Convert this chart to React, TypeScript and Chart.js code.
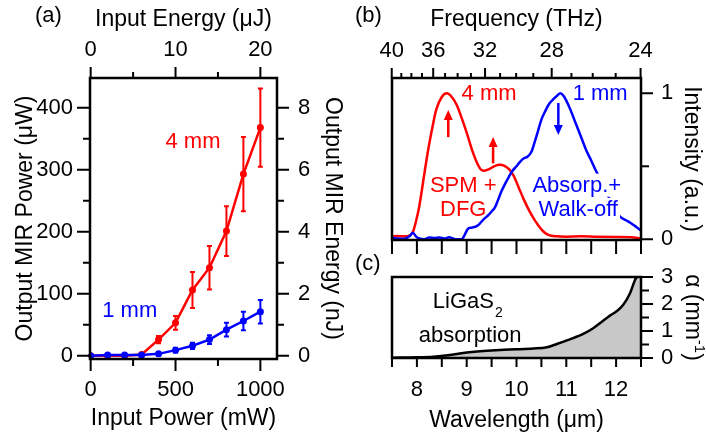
import React, { useEffect, useRef } from "react";
import { Chart, registerables } from "chart.js";

Chart.register(...registerables);

const FONT = "'Liberation Sans', Arial, Helvetica, sans-serif";
const RED = "#ff0000";
const BLUE = "#0000ff";
const BLACK = "#000000";
const FILL_GREY = "#c8c8c8";
const W = 706;
const H = 434;
const C_UM_THZ = 299.792458; // wavelength (µm) × frequency (THz)

// ---------- (a) MIR output versus pump power ----------
const inputPowerMW = [0, 100, 200, 300, 400, 500, 600, 700, 800, 900, 1000];
const mir4mmUW = [0, 0, 0, 2, 26, 53, 106, 142, 201, 293, 368];
const mir4mmErr = [1, 1, 1, 2, 6, 11, 29, 35, 40, 60, 63];
const mir1mmUW = [0, 1, 1, 1, 3, 9, 16, 26, 42, 56, 71];
const mir1mmErr = [1, 1, 1, 1, 3, 4, 5, 7, 11, 15, 19];

const powerTicks = [0, 500, 1000];
const powerMinor = [250, 750];
const energyTicks = [0, 10, 20];
const energyMinor = [5, 15];
const mirPowerTicks = [0, 100, 200, 300, 400];
const mirPowerMinor = [50, 150, 250, 350];
const mirEnergyTicks = [0, 2, 4, 6, 8];
const mirEnergyMinor = [1, 3, 5, 7];
const REP_RATE_KHZ = 50; // mW -> µJ and µW -> nJ

// ---------- (b) normalised MIR spectra ----------
const lambda4mm = [7.5, 7.6, 7.75, 7.85, 7.92, 7.98, 8.05, 8.15, 8.22, 8.29, 8.39, 8.5, 8.6, 8.7, 8.8, 8.9, 9.0, 9.1, 9.2, 9.28, 9.35, 9.45, 9.55, 9.65, 9.75, 9.85, 9.95, 10.05, 10.15, 10.25, 10.35, 10.45, 10.55, 10.65, 10.8, 11.0, 11.3, 11.6, 12.0, 12.3, 12.5];
const intensity4mm = [0.02, 0.022, 0.02, 0.025, 0.05, 0.12, 0.23, 0.45, 0.6, 0.73, 0.89, 0.975, 1.0, 0.975, 0.92, 0.83, 0.73, 0.62, 0.53, 0.48, 0.47, 0.48, 0.5, 0.51, 0.505, 0.48, 0.43, 0.35, 0.27, 0.2, 0.14, 0.09, 0.05, 0.028, 0.02, 0.018, 0.02, 0.017, 0.015, 0.014, 0.006];

const lambda1mm = [7.5, 7.6, 7.75, 7.85, 7.92, 7.98, 8.05, 8.15, 8.25, 8.35, 8.45, 8.55, 8.65, 8.72, 8.8, 8.9, 8.96, 9.02, 9.1, 9.2, 9.27, 9.35, 9.42, 9.5, 9.57, 9.63, 9.7, 9.77, 9.85, 9.92, 10.0, 10.07, 10.15, 10.22, 10.3, 10.36, 10.43, 10.5, 10.58, 10.66, 10.74, 10.82, 10.88, 10.94, 11.0, 11.08, 11.16, 11.24, 11.32, 11.4, 11.5, 11.58, 11.7, 11.85, 12.0, 12.08, 12.2, 12.3, 12.4, 12.5];
const intensity1mm = [0.01, 0.005, 0.004, 0.02, 0.045, 0.02, 0.005, 0.0, 0.012, 0.008, 0.012, 0.005, 0.014, 0.006, 0.0, 0.0, 0.03, 0.07, 0.08, 0.09, 0.11, 0.14, 0.16, 0.19, 0.22, 0.27, 0.33, 0.38, 0.43, 0.47, 0.5, 0.53, 0.555, 0.565, 0.6, 0.66, 0.74, 0.82, 0.88, 0.93, 0.96, 0.985, 1.0, 0.985, 0.95, 0.89, 0.82, 0.75, 0.68, 0.61, 0.54, 0.48, 0.4, 0.29, 0.195, 0.155, 0.13, 0.11, 0.085, 0.06];

const intensityTicks = [0, 1];
const intensityMinor = [0.5];
const freqTicksTHz = [40, 39, 38, 37, 36, 35, 34, 33, 32, 31, 30, 29, 28, 27, 26, 25, 24];
const freqLabelsTHz = [40, 36, 32, 28, 24];

// ---------- (c) LiGaS2 absorption coefficient ----------
const lambdaAbs = [7.5, 8.0, 8.33, 8.66, 9.0, 9.33, 9.67, 10.0, 10.34, 10.61, 10.81, 11.07, 11.34, 11.54, 11.64, 11.74, 11.87, 12.01, 12.14, 12.28, 12.38, 12.43, 12.5];
const alphaAbs = [0.01, 0.025, 0.05, 0.11, 0.2, 0.26, 0.3, 0.32, 0.35, 0.4, 0.52, 0.69, 0.89, 1.1, 1.24, 1.38, 1.56, 1.73, 1.96, 2.4, 2.89, 3.04, 3.3];

const wavelengthTicks = [8, 9, 10, 11, 12];
const wavelengthAllTicks = [7.5, 8, 8.5, 9, 9.5, 10, 10.5, 11, 11.5, 12, 12.5];
const alphaTicks = [0, 1, 2, 3];
const alphaMinor = [0.5, 1.5, 2.5];

// ---------- helpers ----------
const pts = (xs: number[], ys: number[]) => xs.map((x, i) => ({ x, y: ys[i] }));

const fitTo = (size: number) => (scale: any) => {
  if (scale.isHorizontal()) scale.height = size;
  else scale.width = size;
};

const tickValues = (values: number[]) => (scale: any) => {
  scale.ticks = values.map((v) => ({ value: v }));
};

function axis(position: string, min: number, max: number, size: number, values: number[], padding: number, display = true) {
  return {
    type: "linear",
    position,
    min,
    max,
    display,
    afterFit: fitTo(size),
    afterBuildTicks: tickValues(values),
    grid: { display: false, drawTicks: false },
    border: { display: false },
    ticks: {
      color: BLACK,
      font: { family: FONT, size: 22 },
      padding,
      maxRotation: 0,
      minRotation: 0,
      autoSkip: false,
      callback: (v: number) => String(v),
    },
  };
}

type Side = "top" | "bottom" | "left" | "right";

function tickMarks(ctx: CanvasRenderingContext2D, scale: any, side: Side, values: number[], len: number, toAxis = (v: number) => v) {
  const a = scale.chart.chartArea;
  ctx.save();
  ctx.strokeStyle = BLACK;
  ctx.lineWidth = 2;
  ctx.beginPath();
  for (const v of values) {
    const p = scale.getPixelForValue(toAxis(v));
    if (side === "bottom") {
      ctx.moveTo(p, a.bottom);
      ctx.lineTo(p, a.bottom + len);
    } else if (side === "top") {
      ctx.moveTo(p, a.top);
      ctx.lineTo(p, a.top - len);
    } else if (side === "left") {
      ctx.moveTo(a.left, p);
      ctx.lineTo(a.left - len, p);
    } else {
      ctx.moveTo(a.right, p);
      ctx.lineTo(a.right + len, p);
    }
  }
  ctx.stroke();
  ctx.restore();
}

function frame(chart: any) {
  const { ctx, chartArea: a } = chart;
  ctx.save();
  ctx.strokeStyle = BLACK;
  ctx.lineWidth = 2.5;
  ctx.strokeRect(a.left, a.top, a.right - a.left, a.bottom - a.top);
  ctx.restore();
}

function text(ctx: CanvasRenderingContext2D, s: string, x: number, y: number, o: { size?: number; color?: string; align?: CanvasTextAlign; rotate?: number; bg?: boolean } = {}) {
  const size = o.size ?? 22;
  ctx.save();
  ctx.translate(x, y);
  if (o.rotate) ctx.rotate(o.rotate);
  ctx.font = `${size}px ${FONT}`;
  ctx.textAlign = o.align ?? "center";
  ctx.textBaseline = "alphabetic";
  if (o.bg) {
    const w = ctx.measureText(s).width;
    const x0 = o.align === "left" ? 0 : o.align === "right" ? -w : -w / 2;
    ctx.fillStyle = "#ffffff";
    ctx.fillRect(x0 - 2, -size * 0.82, w + 4, size * 1.05);
  }
  ctx.fillStyle = o.color ?? BLACK;
  ctx.fillText(s, 0, 0);
  ctx.restore();
}

function arrow(ctx: CanvasRenderingContext2D, x: number, yFrom: number, yTip: number, color: string) {
  const dir = Math.sign(yTip - yFrom);
  const head = 10;
  const half = 4.5;
  ctx.save();
  ctx.strokeStyle = color;
  ctx.fillStyle = color;
  ctx.lineWidth = 2.5;
  ctx.beginPath();
  ctx.moveTo(x, yFrom);
  ctx.lineTo(x, yTip - dir * head);
  ctx.stroke();
  ctx.beginPath();
  ctx.moveTo(x, yTip);
  ctx.lineTo(x - half, yTip - dir * head);
  ctx.lineTo(x + half, yTip - dir * head);
  ctx.closePath();
  ctx.fill();
  ctx.restore();
}

const baseOptions = {
  animation: false,
  responsive: false,
  devicePixelRatio: 1,
  events: [],
  plugins: { legend: { display: false }, tooltip: { enabled: false } },
};

// ---------- (a) ----------
function configA(): any {
  const area = { left: 90, top: 78, right: 277, bottom: 359 };
  const xMin = -4, xMax = 1098, yMin = -5.3, yMax = 448;
  const plugin = {
    id: "panelA",
    beforeDatasetsDraw(chart: any) {
      const { ctx } = chart;
      const xs = chart.scales.x;
      const ys = chart.scales.y;
      const series = [
        { v: mir4mmUW, e: mir4mmErr, c: RED },
        { v: mir1mmUW, e: mir1mmErr, c: BLUE },
      ];
      ctx.save();
      ctx.lineWidth = 2;
      for (const s of series) {
        ctx.strokeStyle = s.c;
        ctx.beginPath();
        inputPowerMW.forEach((p, i) => {
          const px = xs.getPixelForValue(p);
          const lo = ys.getPixelForValue(s.v[i] - s.e[i]);
          const hi = ys.getPixelForValue(s.v[i] + s.e[i]);
          ctx.moveTo(px, lo);
          ctx.lineTo(px, hi);
          ctx.moveTo(px - 2.5, lo);
          ctx.lineTo(px + 2.5, lo);
          ctx.moveTo(px - 2.5, hi);
          ctx.lineTo(px + 2.5, hi);
        });
        ctx.stroke();
      }
      ctx.restore();
    },
    afterDraw(chart: any) {
      const { ctx, chartArea: a, scales } = chart;
      frame(chart);
      tickMarks(ctx, scales.x, "bottom", powerTicks, 12);
      tickMarks(ctx, scales.x, "bottom", powerMinor, 7);
      tickMarks(ctx, scales.xTop, "top", energyTicks, 11);
      tickMarks(ctx, scales.xTop, "top", energyMinor, 6);
      tickMarks(ctx, scales.y, "left", mirPowerTicks, 13);
      tickMarks(ctx, scales.y, "left", mirPowerMinor, 7);
      tickMarks(ctx, scales.yRight, "right", mirEnergyTicks, 12);
      tickMarks(ctx, scales.yRight, "right", mirEnergyMinor, 7);

      const cx = (a.left + a.right) / 2;
      const cy = (a.top + a.bottom) / 2;
      text(ctx, "(a)", 35, 22, { align: "left" });
      text(ctx, "Input Energy (μJ)", cx, 25.5, { size: 23 });
      text(ctx, "Input Power (mW)", cx, 425, { size: 23 });
      text(ctx, "Output MIR Power (μW)", 31.5, cy, { size: 23, rotate: -Math.PI / 2 });
      text(ctx, "Output MIR Energy (nJ)", 325.5, cy, { size: 23, rotate: Math.PI / 2 });

      const xs = scales.x;
      const ys = scales.y;
      text(ctx, "4 mm", xs.getPixelForValue(603), ys.getPixelForValue(335), { color: RED });
      text(ctx, "1 mm", xs.getPixelForValue(230), ys.getPixelForValue(63), { color: BLUE });
    },
  };
  return {
    type: "line",
    data: {
      datasets: [
        {
          data: pts(inputPowerMW, mir1mmUW),
          xAxisID: "x",
          yAxisID: "y",
          borderColor: BLUE,
          backgroundColor: BLUE,
          borderWidth: 2.5,
          pointRadius: 3.5,
          pointBorderWidth: 0,
          tension: 0,
        },
        {
          data: pts(inputPowerMW, mir4mmUW),
          xAxisID: "x",
          yAxisID: "y",
          borderColor: RED,
          backgroundColor: RED,
          borderWidth: 2.5,
          pointRadius: 3.5,
          pointBorderWidth: 0,
          tension: 0,
        },
      ],
    },
    options: {
      ...baseOptions,
      layout: { padding: { left: 0, top: 0, bottom: 0, right: W - area.right - 77 } },
      scales: {
        x: axis("bottom", xMin, xMax, H - area.bottom, powerTicks, 18),
        xTop: axis("top", xMin / REP_RATE_KHZ, xMax / REP_RATE_KHZ, area.top, energyTicks, 15),
        y: axis("left", yMin, yMax, area.left, mirPowerTicks, 17),
        yRight: axis("right", yMin / REP_RATE_KHZ, yMax / REP_RATE_KHZ, 77, mirEnergyTicks, 21),
      },
    },
    plugins: [plugin],
  };
}

// ---------- (b) ----------
function configB(): any {
  const area = { left: 392, top: 78, right: 641, bottom: 240 };
  const plugin = {
    id: "panelB",
    afterDraw(chart: any) {
      const { ctx, chartArea: a, scales } = chart;
      const xs = scales.x;
      const ys = scales.y;
      const X = (l: number) => xs.getPixelForValue(l);
      const Y = (v: number) => ys.getPixelForValue(v);

      text(ctx, "4 mm", X(9.45), Y(0.955), { color: RED });
      text(ctx, "1 mm", X(11.68), Y(0.955), { color: BLUE });
      text(ctx, "SPM +", X(8.93), Y(0.326), { color: RED });
      text(ctx, "DFG", X(8.93), Y(0.16), { color: RED });
      text(ctx, "Absorp.+", X(11.21), Y(0.326), { color: BLUE, bg: true });
      text(ctx, "Walk-off", X(11.24), Y(0.16), { color: BLUE, bg: true });

      arrow(ctx, X(8.63), Y(0.7), Y(0.886), RED);
      arrow(ctx, X(9.53), Y(0.52), Y(0.7), RED);
      arrow(ctx, X(10.84), Y(0.934), Y(0.715), BLUE);

      frame(chart);
      const toLambda = (f: number) => C_UM_THZ / f;
      const minorFreq = freqTicksTHz.filter((f) => !freqLabelsTHz.includes(f));
      tickMarks(ctx, xs, "top", freqLabelsTHz, 10, toLambda);
      tickMarks(ctx, xs, "top", minorFreq, 5, toLambda);
      tickMarks(ctx, xs, "bottom", wavelengthAllTicks, 14);
      tickMarks(ctx, ys, "right", intensityTicks, 12);
      tickMarks(ctx, ys, "right", intensityMinor, 8);

      for (const f of freqLabelsTHz) {
        text(ctx, String(f), X(toLambda(f)), 56.5);
      }
      text(ctx, "(b)", 355, 22, { align: "left" });
      text(ctx, "Frequency (THz)", (a.left + a.right) / 2, 26, { size: 23 });
      text(ctx, "Intensity (a.u.)", 685, (a.top + a.bottom) / 2, { size: 23, rotate: Math.PI / 2 });
    },
  };
  return {
    type: "line",
    data: {
      datasets: [
        {
          data: pts(lambda1mm, intensity1mm),
          borderColor: BLUE,
          borderWidth: 2.5,
          pointRadius: 0,
          cubicInterpolationMode: "monotone",
        },
        {
          data: pts(lambda4mm, intensity4mm),
          borderColor: RED,
          borderWidth: 2.5,
          pointRadius: 0,
          cubicInterpolationMode: "monotone",
        },
      ],
    },
    options: {
      ...baseOptions,
      layout: { padding: { left: area.left, top: area.top, bottom: H - area.bottom, right: 0 } },
      scales: {
        x: axis("bottom", 7.5, 12.5, 0, wavelengthTicks, 0, false),
        y: axis("right", -0.005, 1.105, W - area.right, intensityTicks, 20),
      },
    },
    plugins: [plugin],
  };
}

// ---------- (c) ----------
function configC(): any {
  const area = { left: 392, top: 277, right: 641, bottom: 358 };
  const plugin = {
    id: "panelC",
    afterDraw(chart: any) {
      const { ctx, chartArea: a, scales } = chart;
      const xs = scales.x;
      const ys = scales.y;
      frame(chart);
      tickMarks(ctx, xs, "bottom", wavelengthAllTicks, 9);
      tickMarks(ctx, ys, "right", alphaTicks, 12);
      tickMarks(ctx, ys, "right", alphaMinor, 8);

      // LiGaS2 label with subscript
      const lx = xs.getPixelForValue(8.32);
      const ly = ys.getPixelForValue(1.84);
      ctx.save();
      ctx.font = `22px ${FONT}`;
      const wMain = ctx.measureText("LiGaS").width;
      ctx.restore();
      text(ctx, "LiGaS", lx, ly, { align: "left" });
      text(ctx, "2", lx + wMain + 1, ly + 8.4, { align: "left", size: 14 });
      text(ctx, "absorption", xs.getPixelForValue(9.07), ys.getPixelForValue(0.6));

      text(ctx, "(c)", 355, 270, { align: "left" });
      text(ctx, "Wavelength (μm)", (a.left + a.right) / 2, 426.5, { size: 23 });

      // α (mm^-1), rotated, with superscript
      ctx.save();
      ctx.translate(686, (a.top + a.bottom) / 2);
      ctx.rotate(Math.PI / 2);
      ctx.fillStyle = BLACK;
      ctx.textAlign = "left";
      ctx.textBaseline = "alphabetic";
      ctx.font = `23px ${FONT}`;
      const w1 = ctx.measureText("α (mm").width;
      const w3 = ctx.measureText(")").width;
      ctx.font = `15px ${FONT}`;
      const w2 = ctx.measureText("-1").width;
      let cx = -(w1 + w2 + w3) / 2;
      ctx.font = `23px ${FONT}`;
      ctx.fillText("α (mm", cx, 0);
      cx += w1;
      ctx.font = `15px ${FONT}`;
      ctx.fillText("-1", cx, -9);
      cx += w2;
      ctx.font = `23px ${FONT}`;
      ctx.fillText(")", cx, 0);
      ctx.restore();
    },
  };
  return {
    type: "line",
    data: {
      datasets: [
        {
          data: pts(lambdaAbs, alphaAbs),
          borderColor: BLACK,
          backgroundColor: FILL_GREY,
          borderWidth: 2.5,
          pointRadius: 0,
          fill: "origin",
          cubicInterpolationMode: "monotone",
        },
      ],
    },
    options: {
      ...baseOptions,
      layout: { padding: { left: area.left, top: area.top, bottom: 0, right: 0 } },
      scales: {
        x: axis("bottom", 7.5, 12.5, H - area.bottom, wavelengthTicks, 19),
        y: axis("right", 0, 3, W - area.right, alphaTicks, 20),
      },
    },
    plugins: [plugin],
  };
}

export default function App() {
  const refA = useRef<HTMLCanvasElement>(null);
  const refB = useRef<HTMLCanvasElement>(null);
  const refC = useRef<HTMLCanvasElement>(null);

  useEffect(() => {
    const charts = [
      new Chart(refA.current!, configA()),
      new Chart(refB.current!, configB()),
      new Chart(refC.current!, configC()),
    ];
    return () => charts.forEach((c) => c.destroy());
  }, []);

  const layer = { position: "absolute", left: 0, top: 0, width: W, height: H } as const;
  return (
    <div style={{ position: "fixed", left: 0, top: 0, width: W, height: H, background: "#ffffff" }}>
      <canvas ref={refC} width={W} height={H} style={layer} />
      <canvas ref={refB} width={W} height={H} style={layer} />
      <canvas ref={refA} width={W} height={H} style={layer} />
    </div>
  );
}
